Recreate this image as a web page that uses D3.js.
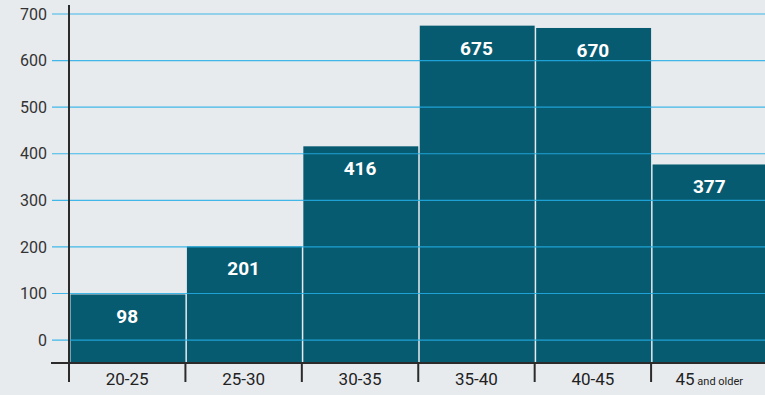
<!DOCTYPE html>
<html>
<head>
<meta charset="utf-8">
<script src="https://cdn.jsdelivr.net/npm/d3@7"></script>
<style>
  body { margin: 0; background: #e8ebee; }
  svg { display: block; font-family: Roboto, "DejaVu Sans", sans-serif; }
</style>
</head>
<body>
<div id="chart"></div>
<script>
// age groups and counts
var categories = ["20-25", "25-30", "30-35", "35-40", "40-45", "45"];
var values = [98, 201, 416, 675, 670, 377];
var yTicks = [0, 100, 200, 300, 400, 500, 600, 700];
var lastSuffix = "and older";

var width = 765, height = 395;

var svg = d3.select("#chart")
  .append("svg")
  .attr("width", width)
  .attr("height", height);

svg.append("rect")
  .attr("width", width)
  .attr("height", height)
  .attr("fill", "#e8ebee");

// y: bars hang below zero down to the axis line
var y = d3.scaleLinear()
  .domain([-47, 700])
  .range([362, 14]);

var x = d3.scaleBand()
  .domain(categories)
  .range([69, 767.5])
  .padding(0);

var data = categories.map(function(c, i) {
  return { group: c, value: values[i] };
});

// bars
svg.selectAll("rect.bar")
  .data(data)
  .enter()
  .append("rect")
  .attr("class", "bar")
  .attr("x", function(d) { return x(d.group) + 1.5; })
  .attr("y", function(d) { return y(d.value); })
  .attr("width", x.bandwidth() - 1.5)
  .attr("height", function(d) { return y(-47) - y(d.value); })
  .attr("fill", "#075b71");

// gridlines over the bars
svg.selectAll("line.grid")
  .data(yTicks)
  .enter()
  .append("line")
  .attr("class", "grid")
  .attr("x1", 52)
  .attr("x2", width)
  .attr("y1", function(d) { return y(d); })
  .attr("y2", function(d) { return y(d); })
  .attr("stroke", "#22aee6")
  .attr("stroke-opacity", 0.85)
  .attr("stroke-width", 1.2);

// y axis labels
var yAxis = svg.append("g")
  .attr("transform", "translate(47,0)")
  .call(d3.axisLeft(y).tickValues(yTicks).tickSize(0).tickPadding(0));
yAxis.select(".domain").remove();
yAxis.selectAll("text")
  .attr("font-size", 16)
  .attr("font-family", "Roboto, sans-serif")
  .attr("fill", "#333");

// value labels
svg.selectAll("text.val")
  .data(data)
  .enter()
  .append("text")
  .attr("class", "val")
  .attr("x", function(d) { return x(d.group) + x.bandwidth() / 2; })
  .attr("y", function(d) { return y(d.value) + 29; })
  .attr("text-anchor", "middle")
  .attr("font-size", 19)
  .attr("font-weight", "bold")
  .attr("fill", "#fff")
  .text(function(d) { return d.value; });

// axis lines
svg.append("line")
  .attr("x1", 69).attr("x2", 69)
  .attr("y1", 5).attr("y2", 382)
  .attr("stroke", "#2b2b2b")
  .attr("stroke-width", 2);

svg.append("line")
  .attr("x1", 51).attr("x2", width)
  .attr("y1", 363).attr("y2", 363)
  .attr("stroke", "#2b2b2b")
  .attr("stroke-width", 2);

// x ticks at band edges
svg.selectAll("line.xtick")
  .data(categories)
  .enter()
  .append("line")
  .attr("class", "xtick")
  .attr("x1", function(d) { return x(d); })
  .attr("x2", function(d) { return x(d); })
  .attr("y1", 363)
  .attr("y2", 382)
  .attr("stroke", "#2b2b2b")
  .attr("stroke-width", 2);

// x labels
var xl = svg.selectAll("text.xl")
  .data(categories)
  .enter()
  .append("text")
  .attr("class", "xl")
  .attr("x", function(d) { return x(d) + x.bandwidth() / 2; })
  .attr("y", 385)
  .attr("text-anchor", "middle")
  .attr("font-size", 17)
  .attr("fill", "#222");

xl.append("tspan").text(function(d) { return d; });
xl.filter(function(d, i) { return i === categories.length - 1; })
  .append("tspan")
  .attr("font-size", 11)
  .text(" " + lastSuffix);
</script>
</body>
</html>
